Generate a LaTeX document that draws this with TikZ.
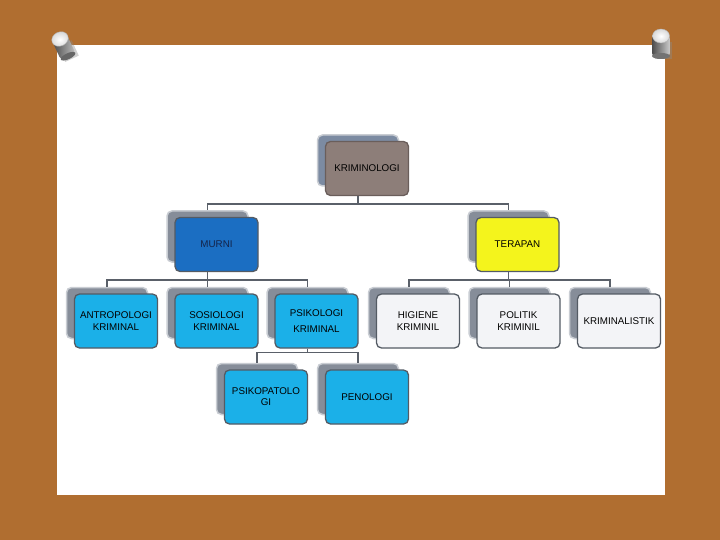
\documentclass[tikz,border=0pt]{standalone}
\usepackage{fontspec}
\setmainfont{Liberation Sans}
\definecolor{cork}{HTML}{B06E30}
\definecolor{shgray}{HTML}{868D99}
\definecolor{shblue}{HTML}{7C8BA2}
\definecolor{shedge}{HTML}{C9CDD3}
\definecolor{edge}{HTML}{545B64}
\definecolor{taupe}{HTML}{8D7E79}
\definecolor{murniblue}{HTML}{1B6EC2}
\definecolor{yel}{HTML}{F4F41C}
\definecolor{cyanb}{HTML}{1BB0E8}
\definecolor{whitebox}{HTML}{F3F4F7}
\definecolor{conncol}{HTML}{5A6069}
\definecolor{navy}{HTML}{14244A}
\tikzset{
  shbox/.style={fill=shgray, draw=shedge, line width=1.5pt, rounded corners=5pt,
    minimum width=81pt, minimum height=51pt, inner sep=0pt},
  fbox/.style={draw=edge, line width=1.3pt, rounded corners=5pt,
    minimum width=83pt, minimum height=54pt, inner sep=1pt, align=center,
    font=\fontsize{9.8}{11.2}\selectfont},
  conn/.style={draw=conncol, line width=1.6pt},
}
\newcommand\pbox[6][]{%
  \node[shbox,#1] (#2s) at (#3-9,#4-8) {};
  \node[fbox,#5] (#2) at (#3,#4) {#6};}
\begin{document}
\begin{tikzpicture}[x=1pt,y=-1pt]
\useasboundingbox (0,0) rectangle (720,540);
\fill[cork] (0,0) rectangle (720,540);
\fill[white] (57,45) rectangle (665,495);
% pins
\begin{scope}[shift={(60,39)},rotate=25]
  \fill[black!45,opacity=0.4] (-5,6) rectangle (10,23);
  \shade[left color=black!70,right color=black!25,rounded corners=3pt] (-8,0) rectangle (8,19);
  \fill[black!60] (0,19) ellipse (8 and 3);
  \shade[inner color=white,outer color=black!15,draw=black!30] (0,0) ellipse (8.5 and 7);
\end{scope}
\begin{scope}[shift={(661,36)}]
  \fill[black!45,opacity=0.4] (-6,6) rectangle (11,23);
  \shade[left color=black!70,right color=black!20,rounded corners=3pt] (-9,0) rectangle (9,20);
  \fill[black!55] (0,20) ellipse (9 and 3);
  \shade[inner color=white,outer color=black!15,draw=black!30] (0,0) ellipse (8.5 and 7);
\end{scope}
% boxes
\pbox[fill=shblue]{k}{367}{168.5}{fill=taupe,draw=taupe!75!black}{KRIMINOLOGI}
\pbox{m}{216.5}{244.5}{fill=murniblue,text=navy}{MURNI}
\pbox{t}{517.5}{244.5}{fill=yel}{TERAPAN}
\pbox{a}{116}{321}{fill=cyanb}{ANTROPOLOGI\\KRIMINAL}
\pbox{s}{216.5}{321}{fill=cyanb}{SOSIOLOGI\\KRIMINAL}
\pbox{p}{316.5}{321}{fill=cyanb}{PSIKOLOGI\\[4pt]KRIMINAL}
\pbox{h}{418}{321}{fill=whitebox}{HIGIENE\\KRIMINIL}
\pbox{po}{518.5}{321}{fill=whitebox}{POLITIK\\KRIMINIL}
\pbox{kl}{619}{321}{fill=whitebox}{KRIMINALISTIK}
\pbox{pp}{266}{397}{fill=cyanb}{PSIKOPATOLO\\GI}
\pbox{pe}{367}{397}{fill=cyanb}{PENOLOGI}
% connectors
\draw[conn] (ks.center |- k.south) -- ++(0,8) -| (ms.north);
\draw[conn] (ks.center |- k.south) -- ++(0,8) -| (ts.north);
\draw[conn] (ms.center |- m.south) -- ++(0,8) -| (as.north);
\draw[conn] (ms.center |- m.south) -- ++(0,8) -| (ss.north);
\draw[conn] (ms.center |- m.south) -- ++(0,8) -| (ps.north);
\draw[conn] (ts.center |- t.south) -- ++(0,8) -| (hs.north);
\draw[conn] (ts.center |- t.south) -- ++(0,8) -| (pos.north);
\draw[conn] (ts.center |- t.south) -- ++(0,8) -| (kls.north);
\draw[conn] (ps.center |- p.south) -- ++(0,4) -| (pps.north);
\draw[conn] (ps.center |- p.south) -- ++(0,4) -| (pes.north);
\end{tikzpicture}
\end{document}
